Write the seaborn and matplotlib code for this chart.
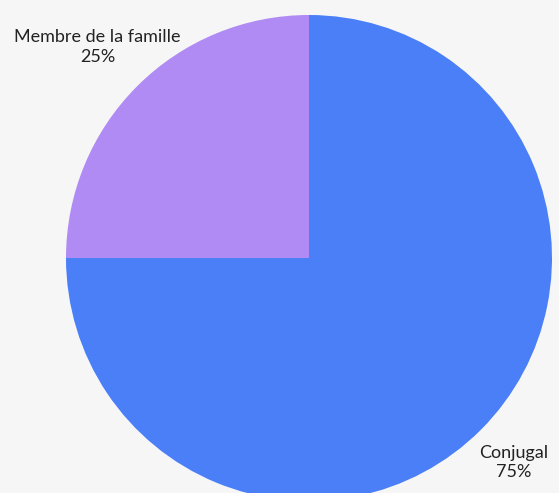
import matplotlib
matplotlib.use("Agg")
import matplotlib.pyplot as plt
import seaborn as sns
import numpy as np

# data
labels = ["Membre de la famille", "Conjugal"]
values = [25, 75]
colors = ["#b08bf3", "#4a7ff8"]

sns.set_theme(style="white")
plt.rcParams['font.family'] = ['Lato', 'DejaVu Sans']

fig = plt.figure(figsize=(5.59, 4.93), dpi=100, facecolor="#f6f6f6")
ax = fig.add_axes([0, 0, 1, 1])
ax.set_facecolor("#f6f6f6")

cx, cy, r = 309, 493 - 258, 243
wedges, _ = ax.pie(values, colors=colors, startangle=90, counterclock=True,
                   center=(cx, cy), radius=r, frame=True,
                   wedgeprops=dict(linewidth=0))
ax.set_xlim(0, 559)
ax.set_ylim(0, 493)
ax.set_aspect("equal")
ax.axis("off")

# outside labels
dist = [1.23, 1.19]
total = sum(values)
for w, lab, v, d in zip(wedges, labels, values, dist):
    ang = np.deg2rad((w.theta1 + w.theta2) / 2)
    x = cx + r * d * np.cos(ang)
    y = cy + r * d * np.sin(ang)
    ax.text(x, y, f"{lab}\n{v / total * 100:.0f}%", ha="center", va="center",
            fontsize=13, color="#222222", linespacing=1.3)

fig.savefig("out.png", dpi=100, facecolor=fig.get_facecolor())
